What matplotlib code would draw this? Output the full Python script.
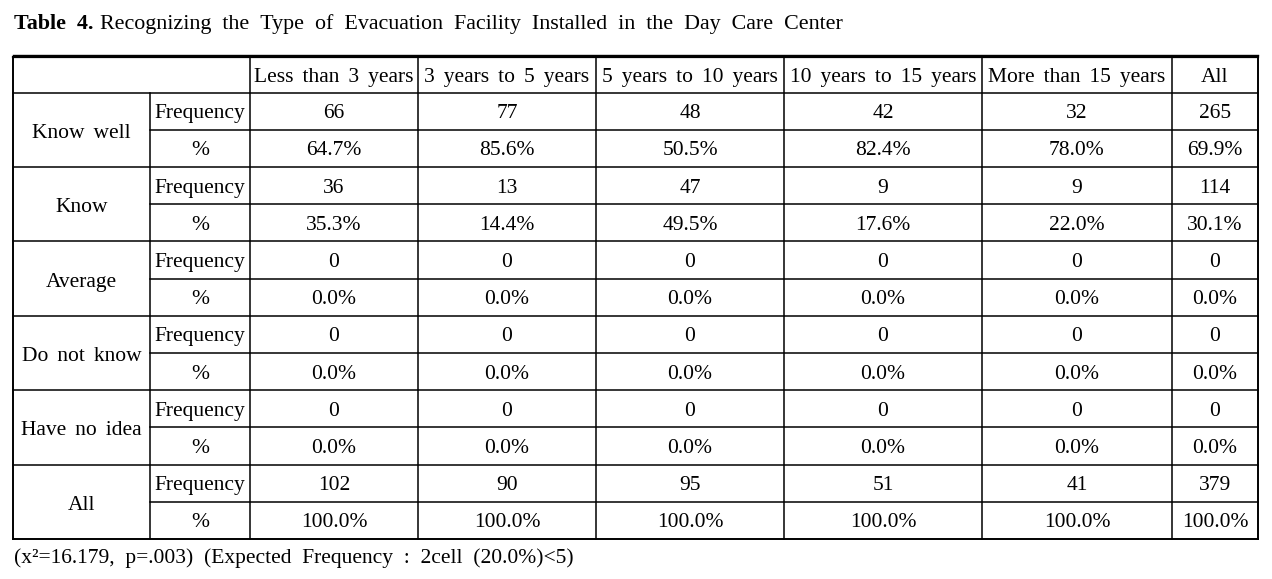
import matplotlib
matplotlib.use("Agg")
import matplotlib.pyplot as plt

# Table data
col_labels = ['Less than 3 years', '3 years to 5 years', '5 years to 10 years',
              '10 years to 15 years', 'More than 15 years', 'All']
groups = ['Know well', 'Know', 'Average', 'Do not know', 'Have no idea', 'All']
freq = [
    [66, 77, 48, 42, 32, 265],
    [36, 13, 47, 9, 9, 114],
    [0, 0, 0, 0, 0, 0],
    [0, 0, 0, 0, 0, 0],
    [0, 0, 0, 0, 0, 0],
    [102, 90, 95, 51, 41, 379],
]
pct = [
    [64.7, 85.6, 50.5, 82.4, 78.0, 69.9],
    [35.3, 14.4, 49.5, 17.6, 22.0, 30.1],
    [0.0, 0.0, 0.0, 0.0, 0.0, 0.0],
    [0.0, 0.0, 0.0, 0.0, 0.0, 0.0],
    [0.0, 0.0, 0.0, 0.0, 0.0, 0.0],
    [100.0, 100.0, 100.0, 100.0, 100.0, 100.0],
]
title_bold = 'Table 4.'
title_rest = 'Recognizing the Type of Evacuation Facility Installed in the Day Care Center'
footnote = '(x²=16.179, p=.003) (Expected Frequency : 2cell (20.0%)<5)'

plt.rcParams['font.family'] = ['Liberation Serif', 'DejaVu Serif']
fs = 15.5

fig = plt.figure(figsize=(12.72, 5.79), dpi=100)
ax = fig.add_axes([0, 0, 1, 1])
ax.set_xlim(0, 1272)
ax.set_ylim(579, 0)
ax.axis('off')

# layout (pixels)
x_left, x_sub, x_right = 13, 150, 1258
col_x = [250, 418, 596, 784, 982, 1172, 1258]
y_top, y_head = 57, 92.5
row_h = (539 - y_head) / 12
dy = 2.5  # text sits a little low in the cells


def sp(s, wide=False):
    # wide word spacing like the Korean typesetting
    return s.replace(' ', ' \u2005' if wide else ' \u2006')


lw = 1.1
# top double rule
ax.plot([x_left, x_right], [54.5, 54.5], color='black', lw=1.0)
ax.plot([x_left, x_right], [y_top, y_top], color='black', lw=1.6)
y_bot = y_head + 12 * row_h
ax.plot([x_left, x_right], [y_bot, y_bot], color='black', lw=1.4)
ax.plot([x_left, x_right], [y_head, y_head], color='black', lw=lw)
for g in range(len(groups)):
    y0 = y_head + 2 * g * row_h
    if g > 0:
        ax.plot([x_left, x_right], [y0, y0], color='black', lw=lw)
    ax.plot([x_sub, x_right], [y0 + row_h, y0 + row_h], color='black', lw=lw)

# verticals
ax.plot([x_left, x_left], [y_top, y_bot], color='black', lw=1.4)
ax.plot([x_right, x_right], [y_top, y_bot], color='black', lw=1.4)
ax.plot([x_sub, x_sub], [y_head, y_bot], color='black', lw=lw)
for x in col_x[:-1]:
    ax.plot([x, x], [y_top, y_bot], color='black', lw=lw)

# header
for i, lab in enumerate(col_labels):
    cx = (col_x[i] + col_x[i + 1]) / 2
    ax.text(cx, (y_top + y_head) / 2 + dy, sp(lab), ha='center', va='center', fontsize=fs)

# body
for g, name in enumerate(groups):
    y0 = y_head + 2 * g * row_h
    ax.text((x_left + x_sub) / 2, y0 + row_h + dy + 1, sp(name), ha='center', va='center', fontsize=fs)
    ax.text((x_sub + col_x[0]) / 2, y0 + row_h / 2 + dy, 'Frequency', ha='center', va='center', fontsize=fs)
    ax.text((x_sub + col_x[0]) / 2, y0 + 1.5 * row_h + dy, '%', ha='center', va='center', fontsize=fs)
    for i in range(len(col_labels)):
        cx = (col_x[i] + col_x[i + 1]) / 2
        ax.text(cx, y0 + row_h / 2 + dy, str(freq[g][i]), ha='center', va='center', fontsize=fs)
        ax.text(cx, y0 + 1.5 * row_h + dy, f'{pct[g][i]:.1f}%', ha='center', va='center', fontsize=fs)

# title and footnote
tfs = 15.8
t = ax.text(14, 24, sp(title_bold, True), ha='left', va='center', fontsize=tfs, fontweight='bold')
fig.canvas.draw()
bb = t.get_window_extent()
x_after = ax.transData.inverted().transform((bb.x1, 0))[0]
ax.text(x_after + 6, 24, sp(title_rest, True), ha='left', va='center', fontsize=tfs)
ax.text(14, 558, sp(footnote, True), ha='left', va='center', fontsize=fs)

fig.savefig('out.png', dpi=100)
